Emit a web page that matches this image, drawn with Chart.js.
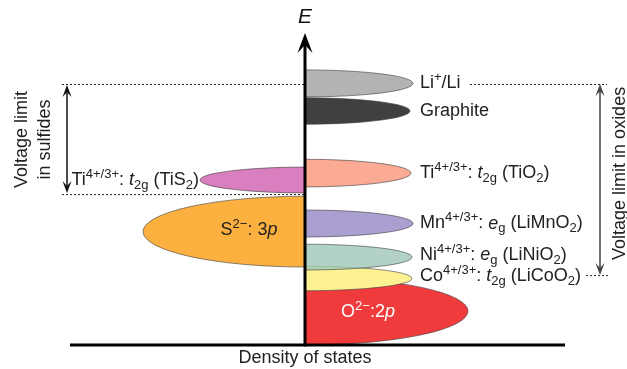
<!DOCTYPE html>
<html>
<head>
<meta charset="utf-8">
<script src="https://cdn.jsdelivr.net/npm/chart.js@4"></script>
<style>
  html, body { margin: 0; background: #fff; }
  #wrap { width: 627px; height: 369px; }
</style>
</head>
<body>
<div id="wrap"><canvas id="dos"></canvas></div>
<script>
// bands, top to bottom (energy in arbitrary units, DOS signed: + right, - left)
const bandLabels = ['Li^{+}/Li', 'Graphite', 'Ti^{4+/3+}: *t*_{2g} (TiO_{2})', 'Mn^{4+/3+}: *e*_{g} (LiMnO_{2})',
  'Ni^{4+/3+}: *e*_{g} (LiNiO_{2})', 'Co^{4+/3+}: *t*_{2g} (LiCoO_{2})', 'O^{2−}:2*p*',
  'Ti^{4+/3+}: *t*_{2g} (TiS_{2})', 'S^{2−}: 3*p*'];
const bandEnergy = [8.72, 7.8, 5.73, 4.05, 2.93, 2.22, 1.13, 5.5, 3.78];
const bandSpread = [0.45, 0.44, 0.46, 0.45, 0.43, 0.41, 1.13, 0.43, 1.18];
const bandDos = [1.08, 1.05, 1.06, 1.08, 1.07, 1.07, 1.63, -1.05, -1.62];
const bandColors = ['#b3b3b3', '#404040', '#fbaa93', '#ab9fd1', 'rgba(160,200,184,0.82)', '#fdf291', '#ef3b3b', '#d97ebe', '#fbb040'];

// voltage windows
const liLevel = 8.7;
const sulfideLimit = 5.03;
const oxideLimit = 2.33;

const FONT = '"Liberation Sans", Arial, sans-serif';

function parseRich(str) {
  const segs = [];
  let italic = false, buf = '', i = 0;
  const push = () => { if (buf) segs.push({t: buf, mode: 'n', italic}); buf = ''; };
  while (i < str.length) {
    const c = str[i];
    if (c === '*') { push(); italic = !italic; i++; }
    else if ((c === '^' || c === '_') && str[i + 1] === '{') {
      push();
      const end = str.indexOf('}', i);
      segs.push({t: str.slice(i + 2, end), mode: c === '^' ? 'sup' : 'sub', italic: false});
      i = end + 1;
    } else { buf += c; i++; }
  }
  push();
  return segs;
}

function drawRich(ctx, str, x, y, size, align, color) {
  const segs = parseRich(str);
  const font = s => (s.italic ? 'italic ' : '') + (s.mode === 'n' ? size : Math.round(size * 0.72)) + 'px ' + FONT;
  let w = 0;
  segs.forEach(s => { ctx.font = font(s); s.w = ctx.measureText(s.t).width; w += s.w; });
  let cx = align === 'left' ? x : align === 'right' ? x - w : x - w / 2;
  ctx.textBaseline = 'middle';
  ctx.textAlign = 'left';
  ctx.fillStyle = color;
  segs.forEach(s => {
    ctx.font = font(s);
    const dy = s.mode === 'sup' ? -size * 0.32 : s.mode === 'sub' ? size * 0.3 : 0;
    ctx.fillText(s.t, cx, y + dy);
    cx += s.w;
  });
}

function arrowHead(ctx, x, y, dir, w, h) {
  ctx.beginPath();
  ctx.moveTo(x, y);
  ctx.lineTo(x - w / 2, y - dir * h);
  ctx.lineTo(x, y - dir * h * 0.6);
  ctx.lineTo(x + w / 2, y - dir * h);
  ctx.closePath();
  ctx.fill();
}

function dotted(ctx, x1, x2, y) {
  ctx.save();
  ctx.strokeStyle = '#222';
  ctx.lineWidth = 1;
  ctx.setLineDash([2, 2]);
  ctx.beginPath();
  ctx.moveTo(x1, y + 0.5);
  ctx.lineTo(x2, y + 0.5);
  ctx.stroke();
  ctx.restore();
}

function doubleArrow(ctx, x, y1, y2, color) {
  ctx.save();
  ctx.strokeStyle = color;
  ctx.fillStyle = color;
  ctx.lineWidth = 1.5;
  ctx.beginPath();
  ctx.moveTo(x, y1 + 6);
  ctx.lineTo(x, y2 - 6);
  ctx.stroke();
  arrowHead(ctx, x, y1, -1, 9, 12);
  arrowHead(ctx, x, y2, 1, 9, 12);
  ctx.restore();
}

const dosPlugin = {
  id: 'dosDiagram',
  afterDatasetsDraw(chart) {
    const {ctx, scales: {x, y}} = chart;
    const x0 = x.getPixelForValue(0);
    const y0 = y.getPixelForValue(0);

    // bands as half ellipses, drawn bottom-up
    for (let i = bandEnergy.length - 1; i >= 0; i--) {
      const cy = y.getPixelForValue(bandEnergy[i]);
      const ry = Math.abs(y.getPixelForValue(bandEnergy[i] + bandSpread[i]) - cy);
      const rx = Math.abs(x.getPixelForValue(bandDos[i]) - x0);
      const right = bandDos[i] > 0;
      ctx.save();
      ctx.beginPath();
      if (right) ctx.rect(x0, 0, chart.width, y0);
      else ctx.rect(0, 0, x0, y0);
      ctx.clip();
      ctx.beginPath();
      if (right) ctx.ellipse(x0, cy, rx, ry, 0, -Math.PI / 2, Math.PI / 2);
      else ctx.ellipse(x0, cy, rx, ry, 0, Math.PI / 2, Math.PI * 1.5);
      ctx.closePath();
      ctx.fillStyle = bandColors[i];
      ctx.fill();
      ctx.strokeStyle = 'rgba(60,60,60,0.75)';
      ctx.lineWidth = 0.8;
      ctx.stroke();
      ctx.restore();
    }

    // voltage limit dotted guides
    const yLi = y.getPixelForValue(liLevel);
    const ySul = y.getPixelForValue(sulfideLimit);
    const yOx = y.getPixelForValue(oxideLimit);
    dotted(ctx, x.getPixelForValue(-2.43), x0, yLi);
    dotted(ctx, x.getPixelForValue(-2.43), x0, ySul);
    dotted(ctx, x.getPixelForValue(1.65), x.getPixelForValue(3.02), yLi);
    dotted(ctx, x.getPixelForValue(2.81), x.getPixelForValue(3.05), yOx);

    doubleArrow(ctx, x.getPixelForValue(-2.38), yLi + 1, ySul - 1, '#111');
    doubleArrow(ctx, x.getPixelForValue(2.95), yLi, yOx, '#444');

    // axes
    ctx.save();
    ctx.strokeStyle = '#000';
    ctx.fillStyle = '#000';
    ctx.lineWidth = 3;
    ctx.beginPath();
    ctx.moveTo(x.getPixelForValue(-2.35), y0);
    ctx.lineTo(x.getPixelForValue(2.6), y0);
    ctx.stroke();
    const yTop = y.getPixelForValue(10.4);
    ctx.beginPath();
    ctx.moveTo(x0, y0 + 1.5);
    ctx.lineTo(x0, yTop + 10);
    ctx.stroke();
    arrowHead(ctx, x0, yTop, -1, 15, 20);
    ctx.restore();

    // band labels
    const txt = '#222';
    const lx = x.getPixelForValue(1.15);
    [0, 1, 2, 3].forEach(i => drawRich(ctx, bandLabels[i], lx, y.getPixelForValue(bandEnergy[i]), 18, 'left', txt));
    drawRich(ctx, bandLabels[4], lx, y.getPixelForValue(bandEnergy[4]) - 2, 18, 'left', txt);
    drawRich(ctx, bandLabels[5], lx, y.getPixelForValue(bandEnergy[5]) - 2, 18, 'left', txt);
    drawRich(ctx, bandLabels[6], x.getPixelForValue(0.63), y.getPixelForValue(1.1), 18, 'center', '#fff');
    drawRich(ctx, bandLabels[7], x.getPixelForValue(-1.06), y.getPixelForValue(bandEnergy[7]), 18, 'right', txt);
    drawRich(ctx, bandLabels[8], x.getPixelForValue(-0.56), y.getPixelForValue(3.83), 18, 'center', txt);

    // axis titles
    ctx.save();
    ctx.fillStyle = '#111';
    ctx.textAlign = 'center';
    ctx.textBaseline = 'middle';
    ctx.font = 'italic 21px ' + FONT;
    ctx.fillText('E', x0, y.getPixelForValue(10.93));
    ctx.fillStyle = txt;
    ctx.font = '18px ' + FONT;
    ctx.fillText('Density of states', x0, y.getPixelForValue(-0.45));

    ctx.translate(x.getPixelForValue(-2.83), y.getPixelForValue(6.85));
    ctx.rotate(-Math.PI / 2);
    ctx.fillText('Voltage limit', 0, 0);
    ctx.fillText('in sulfides', 0, 23);
    ctx.restore();

    ctx.save();
    ctx.fillStyle = txt;
    ctx.textAlign = 'center';
    ctx.textBaseline = 'middle';
    ctx.font = '18px ' + FONT;
    ctx.translate(x.getPixelForValue(3.15), y.getPixelForValue(5.72));
    ctx.rotate(-Math.PI / 2);
    ctx.fillText('Voltage limit in oxides', 0, 0);
    ctx.restore();
  }
};

new Chart(document.getElementById('dos'), {
  type: 'scatter',
  data: {
    datasets: [{
      data: bandEnergy.map((e, i) => ({x: bandDos[i], y: e})),
      pointRadius: 0,
      showLine: false
    }]
  },
  options: {
    responsive: true,
    maintainAspectRatio: false,
    animation: false,
    layout: {padding: 0},
    plugins: {legend: {display: false}, tooltip: {enabled: false}},
    scales: {
      x: {type: 'linear', display: false, min: -3.05, max: 3.22},
      y: {type: 'linear', display: false, min: -0.8, max: 11.5}
    }
  },
  plugins: [dosPlugin]
});
</script>
</body>
</html>
